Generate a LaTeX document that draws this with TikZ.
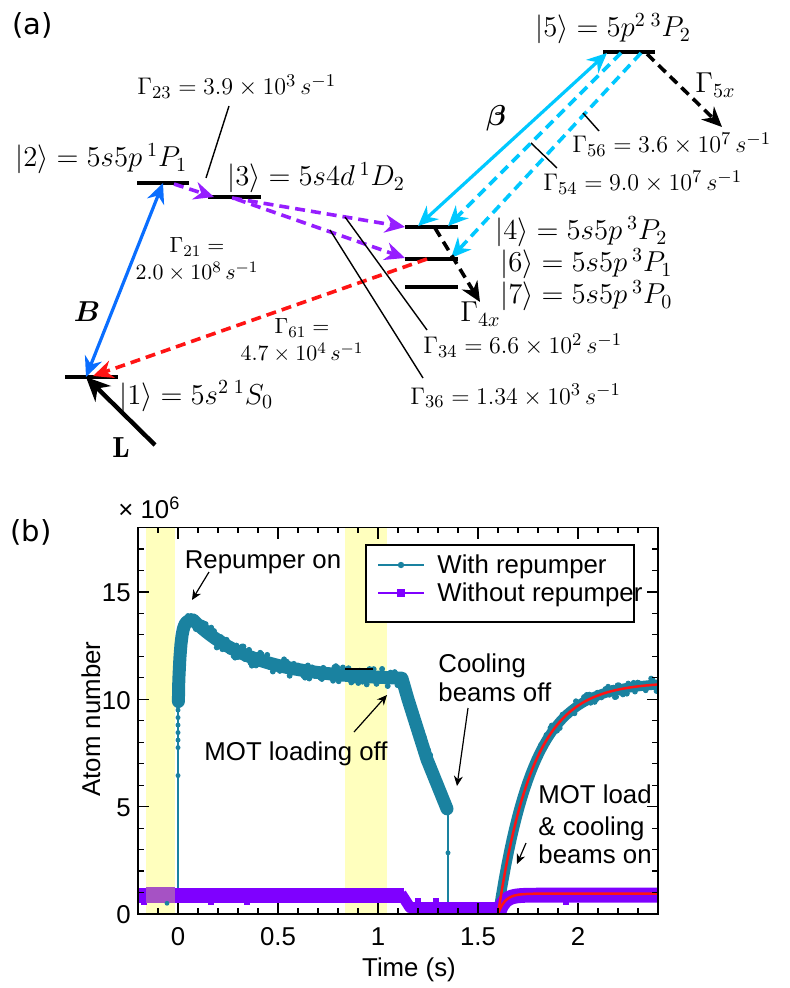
\documentclass[tikz,border=0pt]{standalone}
\usepackage{amsmath}
\usepackage{fontspec}
\newfontfamily\plotfont{Liberation Sans}
\newfontfamily\panelfont{DejaVu Sans}
\usetikzlibrary{arrows.meta}
\definecolor{tealc}{RGB}{26,130,160}
\definecolor{purc}{RGB}{127,0,255}
\definecolor{mauvec}{RGB}{166,82,196}
\definecolor{yelc}{RGB}{255,255,190}
\definecolor{cyanc}{RGB}{0,200,255}
\definecolor{bluec}{RGB}{10,110,255}
\definecolor{violc}{RGB}{150,30,255}
\definecolor{redc}{RGB}{255,20,20}
\begin{document}
\begin{tikzpicture}[x=0.5pt,y=-0.5pt,
  lev/.style={line width=2pt},
  solidar/.style={line width=1.6pt},
  dashar/.style={line width=1.8pt, dash pattern=on 5pt off 3pt},
  hd/.style={-{Stealth[length=10pt,width=9pt]}},
  dhd/.style={{Stealth[length=10pt,width=9pt]}-{Stealth[length=10pt,width=9pt]}},
  leader/.style={line width=0.7pt},
  lvl/.style={font=\fontsize{14.5}{17}\selectfont, inner sep=0pt, anchor=base west},
  rate/.style={font=\fontsize{12.7}{15}\selectfont, inner sep=0pt, anchor=base west},
  ratec/.style={font=\fontsize{11.2}{13}\selectfont, inner sep=0pt, anchor=base},
  ptxt/.style={font=\plotfont\fontsize{12.9}{15}\selectfont, inner sep=0pt},
  pann/.style={line width=0.6pt, -{Stealth[length=5pt,width=4.5pt]}},
  plab/.style={font=\panelfont\fontsize{14.5}{17}\selectfont, inner sep=0pt, anchor=base west},
]
\useasboundingbox (0,0) rectangle (789,988);

% ================= panel (a)
\node[plab] (pa) at (12,35) {(a)};
% level coordinates
\coordinate (l1a) at (65,377); \coordinate (l1b) at (118,377);
\coordinate (l2a) at (137,183); \coordinate (l2b) at (189,183);
\coordinate (l3a) at (208,197); \coordinate (l3b) at (261,197);
\coordinate (l4a) at (405,227); \coordinate (l4b) at (458,227);
\coordinate (l6a) at (405,259); \coordinate (l6b) at (458,259);
\coordinate (l7a) at (405,287); \coordinate (l7b) at (458,287);
\coordinate (l5a) at (603,52); \coordinate (l5b) at (655,52);
\foreach \p in {1,2,3,4,5,6,7}{\draw[lev] (l\p a) -- (l\p b);}

% arrow end points
\coordinate (b1) at (86,377); \coordinate (b2) at (163,183);
\coordinate (lst) at (155,445);
\coordinate (v2) at (174,184); \coordinate (v3) at (214,197);
\coordinate (v3s) at (232,198); \coordinate (v4) at (405,227);
\coordinate (v3t) at (236,199); \coordinate (v6) at (405,258);
\coordinate (c4) at (418,226); \coordinate (c5) at (607,53);
\coordinate (c5b) at (621,53); \coordinate (c4b) at (448,226);
\coordinate (c5c) at (641,53); \coordinate (c6) at (451,258);
\coordinate (x5s) at (647,54); \coordinate (x5e) at (722,127);
\coordinate (x4s) at (435,228); \coordinate (x4e) at (480,302);
\coordinate (r6) at (427,259); \coordinate (r1) at (93,376);

\draw[solidar, bluec, dhd] (b1) -- (b2);
\draw[line width=2.2pt, -{Stealth[length=12pt,width=11pt]}] (lst) -- (b1);
\draw[dashar, violc, hd] (v2) -- (v3);
\draw[dashar, violc, hd] (v3s) -- (v4);
\draw[dashar, violc, hd] (v3t) -- (v6);
\draw[solidar, cyanc, dhd] (c4) -- (c5);
\draw[dashar, cyanc, hd] (c5b) -- (c4b);
\draw[dashar, cyanc, hd] (c5c) -- (c6);
\draw[dashar, black, hd] (x5s) -- (x5e);
\draw[dashar, black, hd] (x4s) -- (x4e);
\draw[dashar, redc, hd] (r6) -- (r1);

% leader lines
\coordinate (g23a) at (229,106); \coordinate (g23b) at (206,178);
\coordinate (g56a) at (583,113); \coordinate (g56b) at (599,131);
\coordinate (g54a) at (531,143); \coordinate (g54b) at (557,168);
\coordinate (g34a) at (345,217); \coordinate (g34b) at (427,330);
\coordinate (g36a) at (330,230); \coordinate (g36b) at (423,378);
\draw[leader] (g23a) -- (g23b);
\draw[leader] (g56a) -- (g56b);
\draw[leader] (g54a) -- (g54b);
\draw[leader] (g34a) -- (g34b);
\draw[leader] (g36a) -- (g36b);

% labels
\node[lvl] (t2) at (15,167) {$|2\rangle = 5s5p\,{}^1P_1$};
\node[lvl] (t3) at (227,186) {$|3\rangle = 5s4d\,{}^1D_2$};
\node[lvl] (t1) at (119,404) {$|1\rangle = 5s^2\,{}^1S_0$};
\node[lvl] (t5) at (535,37) {$|5\rangle = 5p^2\,{}^3P_2$};
\node[lvl] (t4) at (495,240) {$|4\rangle = 5s5p\,{}^3P_2$};
\node[lvl] (t6) at (500,272) {$|6\rangle = 5s5p\,{}^3P_1$};
\node[lvl] (t7) at (500,304) {$|7\rangle = 5s5p\,{}^3P_0$};

\node[rate] (r23) at (137,95) {$\Gamma_{23} = 3.9\times 10^3\,s^{-1}$};
\node[ratec] (r21a) at (197,253) {$\Gamma_{21} =$};
\node[ratec] (r21b) at (197,280) {$2.0\times 10^8\,s^{-1}$};
\node[ratec] (r61a) at (302,334) {$\Gamma_{61} =$};
\node[ratec] (r61b) at (302,361) {$4.7\times 10^4\,s^{-1}$};
\node[rate] (r56) at (572,153) {$\Gamma_{56} = 3.6\times 10^7\,s^{-1}$};
\node[rate] (r54) at (543,191) {$\Gamma_{54} = 9.0\times 10^7\,s^{-1}$};
\node[rate] (r34) at (423,354) {$\Gamma_{34} = 6.6\times 10^2\,s^{-1}$};
\node[rate] (r36) at (410,404) {$\Gamma_{36} = 1.34\times 10^3\,s^{-1}$};
\node[lvl] (r5x) at (695,93) {$\Gamma_{5x}$};
\node[lvl] (r4x) at (460,322) {$\Gamma_{4x}$};
\node[font=\fontsize{14.5}{17}\selectfont, inner sep=0pt] (beta) at (496,118) {$\boldsymbol{\beta}$};
\node[font=\fontsize{14.5}{17}\selectfont, inner sep=0pt] (bB) at (87,312) {$\boldsymbol{B}$};
\node[font=\fontsize{14.5}{17}\selectfont, inner sep=0pt] (bL) at (121,448) {$\mathbf{L}$};

% ================= panel (b)
\node[plab] (pb) at (10,541) {(b)};
\begin{scope}[shift={(178,914)}, x=100pt, y=10.735pt]
  \fill[yelc] (-0.16,0) rectangle (-0.015,18);
  \fill[yelc] (0.835,0) rectangle (1.045,18);
  \begin{scope}
    \clip (-0.2,0) rectangle (2.4,18);
    \pgfmathsetseed{7}
    % with repumper
    \draw[tealc, line width=0.6pt] (0,0.9) -- (0,9.8);
    \draw[tealc, line width=0.6pt] (1.35,4.7) -- (1.35,0.3);
    \foreach \v in {6.45,7.75,8.1,8.45,8.8,9.15,9.5}{\fill[tealc] (0,\v) circle[radius=1.25pt];}
    \fill[tealc] (1.35,2.85) circle[radius=1.25pt];
    \draw[tealc, line width=6.5pt, line join=round, line cap=round]
      (0.002,9.9) -- plot[domain=0.004:0.075, samples=14] (\x,{13.7-3.9*exp(-\x/0.012)})
      -- plot[domain=0.075:1.12, samples=50] (\x,{10.9+2.8*exp(-(\x-0.075)/0.3)})
      -- (1.15,10.0) -- (1.245,7.2) -- (1.345,4.9);
    \draw[tealc] plot[only marks, mark=*, mark size=1.25pt, domain=0.0:0.075, samples=16] (\x,{13.7-3.9*exp(-\x/0.012)+0.25*rand});
    \draw[tealc] plot[only marks, mark=*, mark size=1.25pt, domain=0.075:1.12, samples=150] (\x,{10.9+2.8*exp(-(\x-0.075)/0.3)+0.4*rand});
    \draw[tealc] plot[only marks, mark=*, mark size=1.25pt, domain=1.12:1.35, samples=45] (\x,{11-27.4*(\x-1.12)+0.35*rand});
    \draw[tealc, line width=5pt, line cap=round]
      plot[domain=1.6:2.4, samples=60] (\x,{10.8*(1-exp(-(\x-1.6)/0.175))});
    \draw[tealc] plot[only marks, mark=*, mark size=1.2pt, domain=1.6:2.4, samples=120] (\x,{10.8*(1-exp(-(\x-1.6)/0.175))+0.32*rand});
    % without repumper
    \draw[purc, line width=7.4pt] (-0.25,0.88) -- (1.13,0.88);
    \draw[purc, line width=5.5pt, line join=round] (1.115,0.95) -- (1.16,0.3) -- (1.62,0.3);
    \draw[purc, line width=7.4pt]
      plot[domain=1.6:2.45, samples=50] (\x,{0.88*(1-exp(-(\x-1.6)/0.03))});
    \foreach \t in {-0.17,0.165,0.345,1.94}{\fill[purc] (\t-0.017,0.42) rectangle (\t+0.017,0.9);}
    \foreach \t in {1.2,1.29}{\fill[purc] (\t-0.015,0.3) rectangle (\t+0.015,0.75);}
    \fill[mauvec] (-0.16,0.53) rectangle (-0.015,1.24);
    \fill[tealc] (-0.055,0.5) circle[radius=1.2pt];
    % fits
    \draw[redc, line width=1.25pt] plot[domain=1.6:2.45, samples=80] (\x,{10.8*(1-exp(-(\x-1.6)/0.175))});
    \draw[redc, line width=1.25pt] plot[domain=1.6:2.45, samples=80] (\x,{0.95*(1-exp(-(\x-1.6)/0.035))});
  \end{scope}
  % frame and ticks
  \draw[line width=0.75pt] (-0.2,0) rectangle (2.4,18);
  \foreach \i in {-1,...,23}{
    \draw[line width=0.6pt] (\i/10,0) -- ++(0pt,2.8pt);
    \draw[line width=0.6pt] (\i/10,18) -- ++(0pt,-2.8pt);}
  \foreach \t in {0,0.5,1,1.5,2}{
    \draw[line width=0.6pt] (\t,0) -- ++(0pt,5.5pt);
    \draw[line width=0.6pt] (\t,18) -- ++(0pt,-5.5pt);}
  \foreach \v in {1,...,17}{
    \draw[line width=0.6pt] (-0.2,\v) -- ++(2.8pt,0pt);
    \draw[line width=0.6pt] (2.4,\v) -- ++(-2.8pt,0pt);}
  \foreach \v in {5,10,15}{
    \draw[line width=0.6pt] (-0.2,\v) -- ++(5.5pt,0pt);
    \draw[line width=0.6pt] (2.4,\v) -- ++(-5.5pt,0pt);}
\end{scope}

% tick labels
\node[ptxt, anchor=base] (x0) at (178,945) {0};
\node[ptxt, anchor=base] (x05) at (278,945) {0.5};
\node[ptxt, anchor=base] (x1) at (378,945) {1};
\node[ptxt, anchor=base] (x15) at (478,945) {1.5};
\node[ptxt, anchor=base] (x2) at (578,945) {2};
\node[ptxt, anchor=base east] (y0) at (131,923.5) {0};
\node[ptxt, anchor=base east] (y5) at (131,816) {5};
\node[ptxt, anchor=base east] (y10) at (131,709) {10};
\node[ptxt, anchor=base east] (y15) at (131,601.5) {15};
\node[ptxt, anchor=base] (xlab) at (409,976) {Time (s)};
\node[ptxt, rotate=90] (ylab) at (91,719) {Atom number};
\node[ptxt, anchor=base west] (mult) at (118,518) {× 10\textsuperscript{6}};

% annotations
\node[ptxt, anchor=base] (trep) at (263,568) {Repumper on};
\coordinate (arep1) at (209,572); \coordinate (arep2) at (192,600);
\draw[pann] (arep1) -- (arep2);
\coordinate (hl1) at (345,669); \coordinate (hl2) at (373,669);
\draw[line width=0.6pt] (hl1) -- (hl2);
\node[ptxt, anchor=base] (tmot) at (296,760) {MOT loading off};
\coordinate (amot1) at (354,732); \coordinate (amot2) at (387,695);
\draw[pann] (amot1) -- (amot2);
\node[ptxt, anchor=base west] (tcool1) at (438,672) {Cooling};
\node[ptxt, anchor=base west] (tcool2) at (438,701) {beams off};
\coordinate (acool1) at (468,708); \coordinate (acool2) at (457,786);
\draw[pann] (acool1) -- (acool2);
\node[ptxt, anchor=base west] (tload1) at (538,803) {MOT load};
\node[ptxt, anchor=base west] (tload2) at (538,835) {\& cooling};
\node[ptxt, anchor=base west] (tload3) at (538,863) {beams on};
\coordinate (aload1) at (526,843); \coordinate (aload2) at (517,864);
\draw[pann] (aload1) -- (aload2);

% legend
\node[draw, line width=0.75pt, fill=white, minimum width=134pt, minimum height=38.5pt, inner sep=0pt, anchor=north west] (leg) at (365,544) {};
\coordinate (lg1a) at (378,565); \coordinate (lg1b) at (424,565);
\coordinate (lg2a) at (378,593); \coordinate (lg2b) at (424,593);
\coordinate (lg1m) at (401,565); \coordinate (lg2m) at (401,593);
\draw[tealc, line width=0.8pt] (lg1a) -- (lg1b);
\fill[tealc] (lg1m) circle[radius=1.6pt];
\draw[purc, line width=0.8pt] (lg2a) -- (lg2b);
\fill[purc] (lg2m) ++(-1.8pt,-1.8pt) rectangle ++(3.6pt,3.6pt);
\node[ptxt, anchor=base west] (leg1) at (437,573) {With repumper};
\node[ptxt, anchor=base west] (leg2) at (437,601) {Without repumper};
\end{tikzpicture}
\end{document}
